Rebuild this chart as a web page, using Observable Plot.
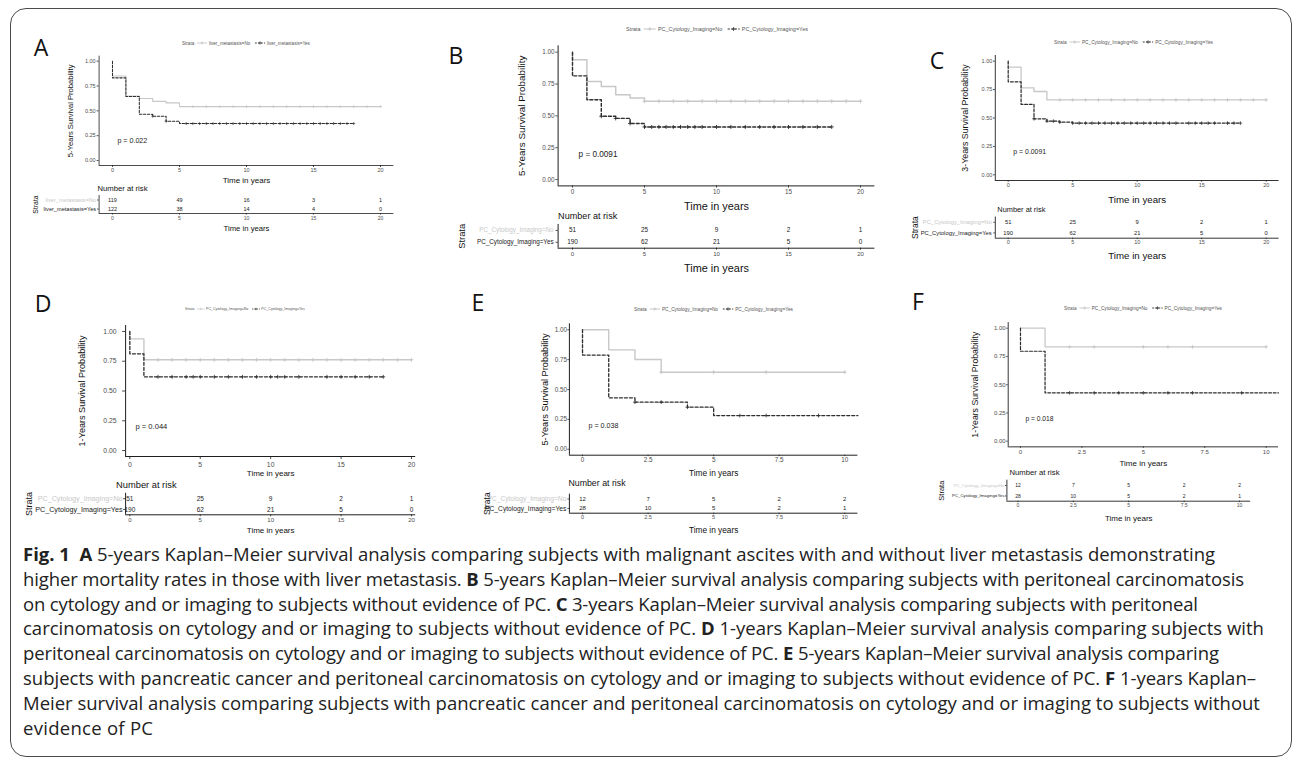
<!DOCTYPE html>
<html><head><meta charset="utf-8">
<script src="https://cdn.jsdelivr.net/npm/d3@7"></script>
<script src="https://cdn.jsdelivr.net/npm/@observablehq/plot@0.6"></script>
<style>
html,body{margin:0;padding:0;background:#fff;}
#page{position:relative;width:1295px;height:761px;overflow:hidden;background:#fff;}
#frame{position:absolute;left:10px;top:8px;width:1282px;height:749px;border:1.8px solid #4a4a4a;border-radius:16px;box-sizing:border-box;}
.letter{position:absolute;font-family:"Open Sans",sans-serif;font-size:23px;line-height:1;color:#111;transform:translate(-50%,-50%);}
#caption{position:absolute;left:23px;top:542px;font-family:"Open Sans",sans-serif;color:#222;white-space:nowrap;}
#caption div{height:24.8px;line-height:24.8px;}
</style></head><body><div id="page"><div id="frame"></div></div>
<script>
// ---------------- DATA ----------------
const strataLiver = ["liver_metastasis=No", "liver_metastasis=Yes"];
const strataPC = ["PC_Cytology_Imaging=No", "PC_Cytology_Imaging=Yes"];
const pValues = ["p = 0.022", "p = 0.0091", "p = 0.0091", "p = 0.044", "p = 0.038", "p = 0.018"];
const yTitles = ["5-Years Survival Probability", "5-Years Survival Probability", "3-Years Survival Probability",
                 "1-Years Survival Probability", "5-Years Survival Probability", "1-Years Survival Probability"];
const xTitle = "Time in years";
const riskTitle = "Number at risk";
const strataTitle = "Strata";
const survTicks = [0, 0.25, 0.5, 0.75, 1];
const timeTicks20 = [0, 5, 10, 15, 20];
const timeTicks10 = [0, 2.5, 5, 7.5, 10];

// Panel A
const aNoTime = [0, 0, 1, 2, 3, 4, 5, 20];
const aNoSurv = [1, 0.85, 0.65, 0.625, 0.595, 0.58, 0.543, 0.543];
const aYesTime = [0, 0, 1, 2, 3, 4, 5, 18];
const aYesSurv = [1, 0.832, 0.645, 0.466, 0.446, 0.396, 0.372, 0.372];
const aNoCensor = [6, 7, 8, 9, 10, 11, 12, 13, 14, 15, 16, 17, 18, 19, 20];
const aYesCensor = [3, 4, 5.5, 6, 6.5, 7, 7.5, 8, 8.5, 9, 9.5, 10, 10.5, 11, 11.5, 12, 12.5, 13, 13.5, 14, 14.5, 15, 15.5, 16, 16.5, 17, 17.5, 18];
const aRiskNo = [119, 49, 16, 3, 1];
const aRiskYes = [122, 38, 14, 4, 0];

// Panel B
const bNoTime = [0, 0, 1, 2, 3, 4, 5, 20];
const bNoSurv = [1, 0.94, 0.77, 0.73, 0.665, 0.64, 0.615, 0.615];
const bYesTime = [0, 0, 1, 2, 3, 4, 5, 18];
const bYesSurv = [1, 0.814, 0.626, 0.497, 0.48, 0.44, 0.413, 0.413];
const bNoCensor = [5, 6, 7, 8, 9, 10, 11, 12, 13, 14, 15, 16, 17, 18, 19, 20];
const bYesCensor = [2, 3, 4, 5, 5.5, 6, 6.5, 7, 7.5, 8, 8.5, 9, 10, 11, 12, 13, 14, 15, 16, 17, 18];
const bRiskNo = [51, 25, 9, 2, 1];
const bRiskYes = [190, 62, 21, 5, 0];

// Panel C
const cNoTime = [0, 0, 1, 2, 3, 20];
const cNoSurv = [1, 0.947, 0.765, 0.733, 0.66, 0.66];
const cYesTime = [0, 0, 1, 2, 3, 4, 5, 18];
const cYesSurv = [1, 0.818, 0.619, 0.493, 0.472, 0.463, 0.455, 0.455];
const cNoCensor = [4, 5, 6, 7, 8, 9, 10, 11, 12, 13, 14, 15, 16, 17, 18, 19, 20];
const cYesCensor = [2, 3, 3.5, 4, 5, 5.5, 6, 6.5, 7, 7.5, 8, 8.5, 9, 9.5, 10, 10.5, 11, 11.5, 12, 12.5, 13, 14, 14.5, 15, 15.5, 16, 17, 17.5, 18];
const cRiskNo = [51, 25, 9, 2, 1];
const cRiskYes = [190, 62, 21, 5, 0];

// Panel D
const dNoTime = [0, 0, 1, 20];
const dNoSurv = [1, 0.938, 0.762, 0.762];
const dYesTime = [0, 0, 1, 18];
const dYesSurv = [1, 0.812, 0.619, 0.619];
const dNoCensor = [2, 3, 4, 5, 6, 7, 8, 9, 10, 11, 12, 13, 14, 15, 16, 17, 18, 19, 20];
const dYesCensor = [2, 3, 4, 4.5, 5, 6, 7, 8, 9, 10, 10.5, 11, 12, 14, 15, 16, 17, 18];
const dRiskNo = [51, 25, 9, 2, 1];
const dRiskYes = [190, 62, 21, 5, 0];

// Panel E
const eNoTime = [0, 1, 2, 3, 10];
const eNoSurv = [1, 0.832, 0.751, 0.645, 0.645];
const eYesTime = [0, 0, 1, 2, 4, 5, 10.5];
const eYesSurv = [1, 0.788, 0.43, 0.394, 0.352, 0.282, 0.282];
const eNoCensor = [3, 5, 7, 10];
const eYesCensor = [2, 3, 4, 6, 7, 9];
const eRiskNo = [12, 7, 5, 2, 2];
const eRiskYes = [28, 10, 5, 2, 1];

// Panel F
const fNoTime = [0, 1, 10];
const fNoSurv = [1, 0.835, 0.835];
const fYesTime = [0, 0, 1, 10.5];
const fYesSurv = [1, 0.796, 0.428, 0.428];
const fNoCensor = [2, 3, 5, 6, 7, 10];
const fYesCensor = [2, 3, 4, 5, 6, 7, 9];
const fRiskNo = [12, 7, 5, 2, 2];
const fRiskYes = [28, 10, 5, 2, 1];

const captionLines = [
  "<b>Fig. 1</b>&nbsp; <b>A</b> 5-years Kaplan–Meier survival analysis comparing subjects with malignant ascites with and without liver metastasis demonstrating",
  "higher mortality rates in those with liver metastasis. <b>B</b> 5-years Kaplan–Meier survival analysis comparing subjects with peritoneal carcinomatosis",
  "on cytology and or imaging to subjects without evidence of PC. <b>C</b> 3-years Kaplan–Meier survival analysis comparing subjects with peritoneal",
  "carcinomatosis on cytology and or imaging to subjects without evidence of PC. <b>D</b> 1-years Kaplan–Meier survival analysis comparing subjects with",
  "peritoneal carcinomatosis on cytology and or imaging to subjects without evidence of PC. <b>E</b> 5-years Kaplan–Meier survival analysis comparing",
  "subjects with pancreatic cancer and peritoneal carcinomatosis on cytology and or imaging to subjects without evidence of PC. <b>F</b> 1-years Kaplan–",
  "Meier survival analysis comparing subjects with pancreatic cancer and peritoneal carcinomatosis on cytology and or imaging to subjects without",
  "evidence of PC"
];
const captionLineEnds = [1215, 1244, 1198, 1264, 1219, 1256, 1260, 153];

// ---------------- DRAWING ----------------
const noColor = "#c8c8c8", yesColor = "#2e2e2e", axisColor = "#1e1e1e", tickColor = "#4d4d4d";
const FONT = "'Liberation Sans', Arial, Helvetica, sans-serif";
const page = document.getElementById("page");
const fmtT = d => String(d);
const plus = {draw(ctx, size) { const r = Math.sqrt(size / Math.PI); ctx.moveTo(0, -r); ctx.lineTo(0, r); ctx.moveTo(-r, 0); ctx.lineTo(r, 0); }};

function stepAt(times, surv, t) { let v = surv[0]; for (let i = 0; i < times.length; i++) if (times[i] <= t) v = surv[i]; return v; }
const toPts = (times, surv) => times.map((t, i) => ({t, s: surv[i]}));
const censorPts = (times, surv, cens) => cens.map(t => ({t, s: stepAt(times, surv, t)}));
function mount(el, left, top) { el.style.position = "absolute"; el.style.left = left + "px"; el.style.top = top + "px"; page.appendChild(el); }
const styleStr = `background:transparent;overflow:visible;font-family:${FONT};`;

function kmPlot(c) {
  const plot = Plot.plot({
    width: c.W, height: c.H,
    marginLeft: c.axL - c.L, marginRight: c.L + c.W - c.axR, marginTop: c.axT - c.T, marginBottom: c.T + c.H - c.axB,
    style: styleStr,
    x: {domain: c.xDomain}, y: {domain: [-0.05, 1.05]},
    marks: [
      Plot.axisX({ticks: c.ticks, tickFormat: fmtT, tickSize: c.tsz, tickPadding: c.xpad, fontSize: c.tf, color: tickColor, label: null}),
      Plot.axisY({ticks: survTicks, tickFormat: d3.format(".2f"), tickSize: c.tsz, tickPadding: c.ypad, fontSize: c.tf, color: tickColor, label: null}),
      Plot.ruleX([c.xDomain[0]], {stroke: axisColor, strokeWidth: c.aw}),
      Plot.ruleY([-0.05], {stroke: axisColor, strokeWidth: c.aw}),
      Plot.line(toPts(c.noT, c.noS), {x: "t", y: "s", curve: "step-after", stroke: noColor, strokeWidth: c.lw}),
      Plot.dot(censorPts(c.noT, c.noS, c.noC), {x: "t", y: "s", symbol: plus, r: c.cr, stroke: noColor, fill: "none", strokeWidth: c.lw * 0.7}),
      Plot.line(toPts(c.yesT, c.yesS), {x: "t", y: "s", curve: "step-after", stroke: yesColor, strokeWidth: c.lw * 0.95, strokeDasharray: c.dash}),
      Plot.dot(censorPts(c.yesT, c.yesS, c.yesC), {x: "t", y: "s", symbol: plus, r: c.cr, stroke: yesColor, fill: "none", strokeWidth: c.lw * 0.6}),
      Plot.text([c.p], {x: () => c.px, y: () => 0.2, text: d => d, textAnchor: "start", lineAnchor: "middle", fontSize: c.pf, fill: "#1a1a1a"}),
      Plot.text([xTitle], {frameAnchor: "bottom", dy: c.xdy, text: d => d, textAnchor: "middle", lineAnchor: "middle", fontSize: c.xf, fill: "#111"}),
      Plot.text([c.ytitle], {frameAnchor: "left", dx: c.ydx, rotate: -90, text: d => d, textAnchor: "middle", lineAnchor: "middle", fontSize: c.yf, fill: "#111"})
    ]
  });
  mount(plot, c.L, c.T);
}

function riskPlot(c) {
  const rows = [];
  c.times.forEach((t, i) => { rows.push({t, r: 0.5, n: c.no[i]}); rows.push({t, r: 1.5, n: c.yes[i]}); });
  const plot = Plot.plot({
    width: c.W, height: c.H,
    marginLeft: c.axL - c.L, marginRight: c.L + c.W - c.axR, marginTop: c.fT - c.T, marginBottom: c.T + c.H - c.fB,
    style: styleStr,
    x: {domain: c.xDomain}, y: {domain: [2, 0]},
    marks: [
      Plot.axisX({ticks: c.times, tickFormat: fmtT, tickSize: c.tsz, tickPadding: c.xpad, fontSize: c.tf, color: tickColor, label: null}),
      Plot.axisY({ticks: [0.5, 1.5], tickFormat: () => "", tickSize: c.tsz, color: tickColor, label: null}),
      Plot.ruleX([c.xDomain[0]], {stroke: axisColor, strokeWidth: c.aw}),
      Plot.ruleY([2], {stroke: axisColor, strokeWidth: c.aw}),
      Plot.text(rows, {x: "t", y: "r", text: d => String(d.n), fontSize: c.nf, fill: "#1a1a1a"}),
      Plot.text([c.labels[0]], {x: () => c.xDomain[0], y: () => 0.5, text: d => d, textAnchor: "end", dx: -c.ldx, fontSize: c.lf, fill: noColor}),
      Plot.text([c.labels[1]], {x: () => c.xDomain[0], y: () => 1.5, text: d => d, textAnchor: "end", dx: -c.ldx, fontSize: c.lf, fill: "#222"}),
      Plot.text([riskTitle], {frameAnchor: "top-left", dx: c.ndx, dy: c.ndy, text: d => d, textAnchor: "start", lineAnchor: "middle", fontSize: c.nrf, fill: "#111"}),
      Plot.text([strataTitle], {frameAnchor: "left", dx: c.sdx, rotate: -90, text: d => d, textAnchor: "middle", lineAnchor: "middle", fontSize: c.sf, fill: "#111"}),
      Plot.text([xTitle], {frameAnchor: "bottom", dy: c.xdy, text: d => d, textAnchor: "middle", lineAnchor: "middle", fontSize: c.xf, fill: "#111"})
    ]
  });
  mount(plot, c.L, c.T);
}

function legend(x, y, width, labels) {
  const svg = d3.select(page).append("svg")
    .style("position", "absolute").style("left", x + "px").style("top", (y - 8) + "px")
    .style("overflow", "visible").style("font-family", FONT)
    .attr("width", width + 4).attr("height", 16);
  const g = svg.append("g");
  const fs = 10, keyW = 22, gap = 4;
  let cx = 0;
  const tx = s => { const t = g.append("text").attr("x", cx).attr("y", 0).attr("dy", "0.35em").attr("font-size", fs).attr("fill", "#555").text(s); cx += t.node().getComputedTextLength(); };
  const key = (color, dash) => {
    g.append("line").attr("x1", cx).attr("x2", cx + keyW).attr("y1", 0).attr("y2", 0).attr("stroke", color).attr("stroke-width", 2).attr("stroke-dasharray", dash);
    g.append("path").attr("d", `M${cx + keyW / 2},-3.5V3.5M${cx + keyW / 2 - 3.5},0H${cx + keyW / 2 + 3.5}`).attr("stroke", color).attr("stroke-width", 1.6);
    cx += keyW + gap;
  };
  tx(strataTitle); cx += gap * 1.5;
  key(noColor, null); tx(labels[0]); cx += gap * 2.5;
  key(yesColor, "4,2.5"); tx(labels[1]);
  g.attr("transform", `translate(0,8) scale(${width / cx})`);
}

function letter(ch, x, y) { const d = document.createElement("div"); d.className = "letter"; d.textContent = ch; d.style.left = x + "px"; d.style.top = y + "px"; page.appendChild(d); }

// ---- Panel A ----
kmPlot({L: 50, T: 48, W: 350, H: 140, axL: 98.6, axR: 393.4, axT: 55.7, axB: 165, xDomain: [-1, 21], ticks: timeTicks20,
  tsz: 2, xpad: 1, ypad: 1.5, tf: 5.5, aw: 0.8, lw: 1.1, cr: 1.5, dash: "2.4,1.6", p: pValues[0], px: 0.37, pf: 7.1,
  xdy: 15, xf: 8, ydx: -28.6, yf: 7.6, ytitle: yTitles[0],
  noT: aNoTime, noS: aNoSurv, noC: aNoCensor, yesT: aYesTime, yesS: aYesSurv, yesC: aYesCensor});
riskPlot({L: 15, T: 178, W: 385, H: 58, axL: 98.6, axR: 393.4, fT: 195, fB: 213, xDomain: [-1, 21], times: timeTicks20,
  no: aRiskNo, yes: aRiskYes, labels: strataLiver, tsz: 1.5, xpad: 1, tf: 5, nf: 5.5, lf: 5.6, ldx: 3, ndx: -1.6, ndy: -6.5,
  nrf: 7.7, sdx: -63.6, sf: 6.9, xdy: 15, xf: 7.7, aw: 0.8});

// ---- Panel B ----
kmPlot({L: 490, T: 38, W: 390, H: 180, axL: 557.6, axR: 874.4, axT: 45.3, axB: 185.4, xDomain: [-1, 21], ticks: timeTicks20,
  tsz: 2.2, xpad: 1.5, ypad: 1.5, tf: 6.3, aw: 1, lw: 1.5, cr: 2.0, dash: "3,2", p: pValues[1], px: 0.42, pf: 8.2,
  xdy: 20.6, xf: 10.9, ydx: -35.9, yf: 9.9, ytitle: yTitles[1],
  noT: bNoTime, noS: bNoSurv, noC: bNoCensor, yesT: bYesTime, yesS: bYesSurv, yesC: bYesCensor});
riskPlot({L: 440, T: 204, W: 440, H: 74, axL: 557.6, axR: 874.4, fT: 224, fB: 247.7, xDomain: [-1, 21], times: timeTicks20,
  no: bRiskNo, yes: bRiskYes, labels: strataPC, tsz: 2, xpad: 1.5, tf: 6, nf: 6.4, lf: 6.3, ldx: 4.5, ndx: 0, ndy: -8.3,
  nrf: 9.1, sdx: -95.9, sf: 9.4, xdy: 20.3, xf: 10.9, aw: 1});

// ---- Panel C ----
kmPlot({L: 940, T: 48, W: 350, H: 160, axL: 994.8, axR: 1278.6, axT: 55, axB: 180, xDomain: [-1, 21], ticks: timeTicks20,
  tsz: 1.8, xpad: 1.2, ypad: 1.2, tf: 5.5, aw: 0.9, lw: 1.3, cr: 1.8, dash: "2.8,1.8", p: pValues[2], px: 0.4, pf: 6.9,
  xdy: 19, xf: 9.7, ydx: -29.8, yf: 8.8, ytitle: yTitles[2],
  noT: cNoTime, noS: cNoSurv, noC: cNoCensor, yesT: cYesTime, yesS: cYesSurv, yesC: cYesCensor});
riskPlot({L: 900, T: 200, W: 390, H: 64, axL: 994.8, axR: 1278.6, fT: 216.5, fB: 237.7, xDomain: [-1, 21], times: timeTicks20,
  no: cRiskNo, yes: cRiskYes, labels: strataPC, tsz: 1.5, xpad: 0.8, tf: 5.5, nf: 5.8, lf: 5.85, ldx: 3.5, ndx: 2, ndy: -7.5,
  nrf: 7.4, sdx: -79.8, sf: 8.5, xdy: 18, xf: 9.7, aw: 0.9});

// ---- Panel D ----
kmPlot({L: 55, T: 318, W: 365, H: 162, axL: 125.1, axR: 415.2, axT: 325, axB: 456, xDomain: [-0.3, 20.3], ticks: timeTicks20,
  tsz: 3, xpad: 2.5, ypad: 6, tf: 6.8, aw: 1, lw: 1.4, cr: 1.9, dash: "3,2", p: pValues[3], px: 0.4, pf: 7.6,
  xdy: 16.7, xf: 8, ydx: -43.4, yf: 9.1, ytitle: yTitles[3],
  noT: dNoTime, noS: dNoSurv, noC: dNoCensor, yesT: dYesTime, yesS: dYesSurv, yesC: dYesCensor});
riskPlot({L: 15, T: 474, W: 405, H: 62, axL: 125.1, axR: 415.2, fT: 492.8, fB: 514.3, xDomain: [-0.3, 20.3], times: timeTicks20,
  no: dRiskNo, yes: dRiskYes, labels: strataPC, tsz: 2, xpad: 1.3, tf: 6, nf: 6.5, lf: 7.2, ldx: 3, ndx: -9.5, ndy: -7.8,
  nrf: 9.3, sdx: -96.1, sf: 9, xdy: 15.7, xf: 8, aw: 1});

// ---- Panel E ----
kmPlot({L: 520, T: 315, W: 345, H: 165, axL: 568.9, axR: 857.4, axT: 323.3, axB: 454.7, xDomain: [-0.5, 10.5], ticks: timeTicks10,
  tsz: 1.5, xpad: 1, ypad: 1, tf: 6.3, aw: 1, lw: 1.4, cr: 1.9, dash: "3,2", p: pValues[4], px: 0.23, pf: 7.1,
  xdy: 18, xf: 8.3, ydx: -23.9, yf: 9.2, ytitle: yTitles[4],
  noT: eNoTime, noS: eNoSurv, noC: eNoCensor, yesT: eYesTime, yesS: eYesSurv, yesC: eYesCensor});
riskPlot({L: 470, T: 472, W: 395, H: 64, axL: 568.9, axR: 857.4, fT: 493.7, fB: 512.7, xDomain: [-0.5, 10.5], times: timeTicks10,
  no: eRiskNo, yes: eRiskYes, labels: strataPC, tsz: 1.5, xpad: 0.8, tf: 5.5, nf: 6, lf: 6.7, ldx: 3, ndx: -1, ndy: -11,
  nrf: 8.8, sdx: -81.9, sf: 8.5, xdy: 17.3, xf: 8.3, aw: 1});

// ---- Panel F ----
kmPlot({L: 955, T: 315, W: 335, H: 153, axL: 1007.7, axR: 1278, axT: 322.05, axB: 446.35, xDomain: [-0.5, 10.5], ticks: timeTicks10,
  tsz: 1.5, xpad: 1, ypad: 1, tf: 6, aw: 0.9, lw: 1.3, cr: 1.8, dash: "2.8,1.8", p: pValues[5], px: 0.2, pf: 6.7,
  xdy: 16.3, xf: 8, ydx: -32.7, yf: 8.7, ytitle: yTitles[5],
  noT: fNoTime, noS: fNoSurv, noC: fNoCensor, yesT: fYesTime, yesS: fYesSurv, yesC: fYesCensor});
riskPlot({L: 900, T: 462, W: 360, H: 64, axL: 1006.4, axR: 1250.1, fT: 479.7, fB: 500.7, xDomain: [-0.5, 10.5], times: timeTicks10,
  no: fRiskNo, yes: fRiskYes, labels: strataPC, tsz: 1.5, xpad: 1, tf: 5, nf: 5, lf: 4.3, ldx: 2.5, ndx: 2.6, ndy: -8,
  nrf: 7.7, sdx: -64.9, sf: 7.5, xdy: 17.6, xf: 8, aw: 0.9});

// Legends
legend(181.7, 43, 128, strataLiver);
legend(626, 29, 182, strataPC);
legend(1054, 42.3, 159, strataPC);
legend(185, 309, 120, strataPC);
legend(634, 309.3, 159, strataPC);
legend(1064, 308.3, 158, strataPC);

// Panel letters
[["A", 41, 47], ["B", 456, 55], ["C", 937, 60], ["D", 43, 303], ["E", 478, 302], ["F", 918, 301]].forEach(d => letter(...d));

// Caption
const cap = document.createElement("div");
cap.id = "caption";
page.appendChild(cap);
const spans = captionLines.map(l => { const div = document.createElement("div"); const sp = document.createElement("span"); sp.innerHTML = l; div.appendChild(sp); cap.appendChild(div); return sp; });
cap.style.fontSize = "16px";
const w4 = spans[3].getBoundingClientRect().width;
cap.style.fontSize = (16 * (1264 - 23) / w4).toFixed(2) + "px";
spans.forEach((sp, i) => {
  const w = sp.getBoundingClientRect().width;
  const n = sp.textContent.length;
  const ls = (captionLineEnds[i] - 23 - w) / Math.max(1, n - 1);
  sp.style.letterSpacing = Math.max(-0.4, Math.min(0.4, ls)).toFixed(3) + "px";
});
</script></body></html>
